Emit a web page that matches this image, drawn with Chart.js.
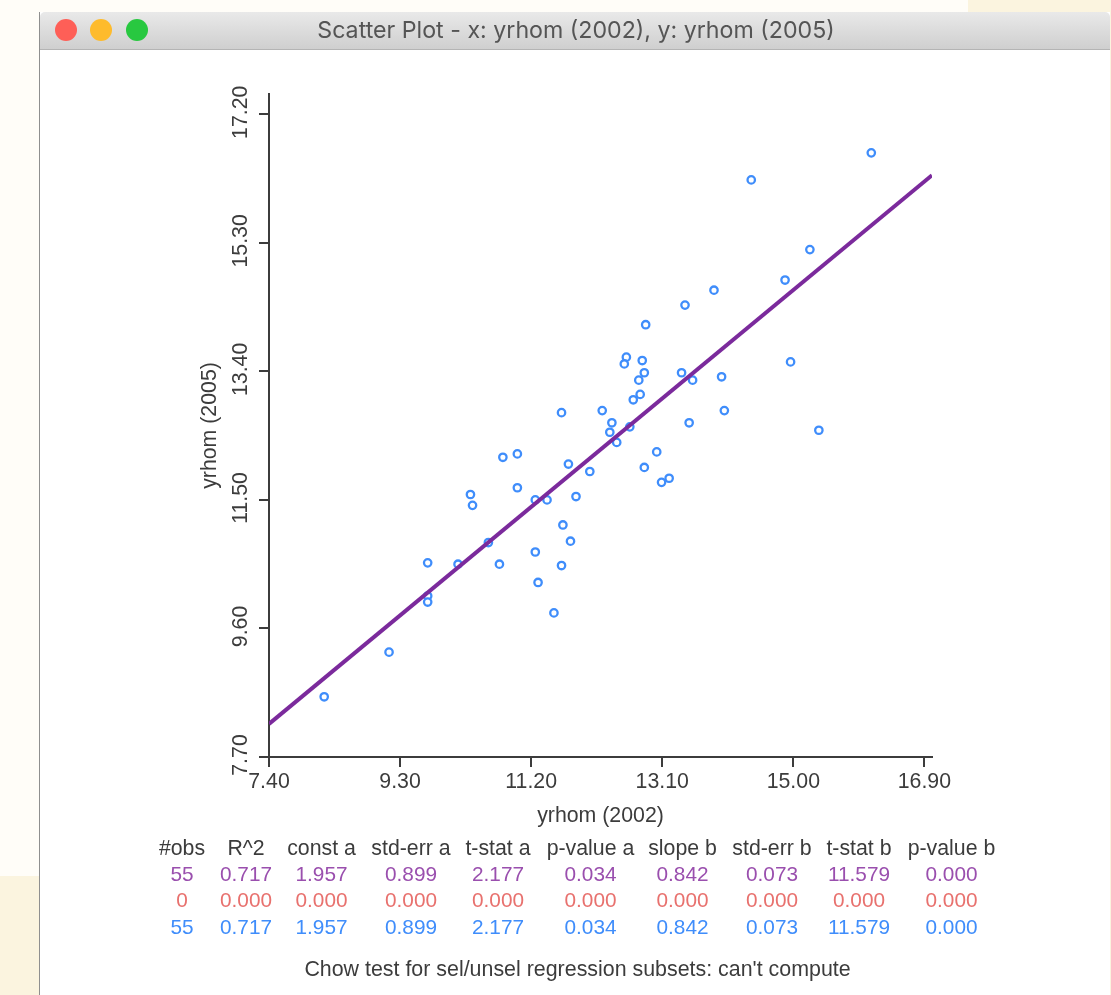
<!DOCTYPE html>
<html><head><meta charset="utf-8">
<script src="https://cdn.jsdelivr.net/npm/chart.js@4"></script>
<style>
html,body{margin:0;padding:0;width:1111px;height:995px;overflow:hidden;background:#fffdf8;font-family:"Liberation Sans",Arial,sans-serif}
.abs{position:absolute}
#win{left:40px;top:12px;width:1070px;height:983px;background:#fff;box-shadow:-1px 0 0 #8f8f8f}
#bar{left:40px;top:12px;width:1070px;height:37px;background:linear-gradient(#e9e9e9,#cfcfcf);border-bottom:1px solid #b4b4b4;border-radius:5px 5px 0 0}
.dot{width:22px;height:22px;border-radius:50%;top:19px}
#title{left:40px;width:1072px;top:16px;text-align:center;font:23.2px Inter,sans-serif;color:#555}
canvas{position:absolute;left:0;top:0;filter:blur(0.45px)}
#tbl,#title{filter:blur(0.45px)}
.t{position:absolute;transform:translateX(-50%);white-space:nowrap;line-height:24px}
</style></head><body>
<div class="abs" style="left:968px;top:0;width:143px;height:12px;background:#fbf4df"></div>
<div class="abs" style="left:0;top:876px;width:40px;height:119px;background:#fbf4df"></div>
<div class="abs" style="left:1110px;top:0;width:1px;height:995px;background:#fbf4df"></div>
<div class="abs" id="win"></div>
<div class="abs" id="bar"></div>
<div class="abs dot" style="left:55px;background:#fe5f57"></div>
<div class="abs dot" style="left:90px;background:#febb2c"></div>
<div class="abs dot" style="left:126px;background:#28c840"></div>
<div class="abs" id="title">Scatter Plot - x: yrhom (2002), y: yrhom (2005)</div>
<canvas id="c" width="1111" height="995"></canvas>
<div id="tbl"></div>
<script>
const xName = "yrhom (2002)";
const yName = "yrhom (2005)";
const xTicks = [7.40, 9.30, 11.20, 13.10, 15.00, 16.90];
const yTicks = [7.70, 9.60, 11.50, 13.40, 15.30, 17.20];
const xValues = [12.58,12.55,12.81,12.84,12.76,13.38,13.54,13.96,12.78,12.68,11.64,12.23,14.00,12.37,13.49,12.63,12.34,12.44,13.02,11.00,10.79,11.74,12.84,12.05,13.20,13.09,11.00,11.85,10.32,10.35,11.26,11.43,16.13,14.39,15.24,14.88,13.85,13.43,12.86,14.96,15.37,11.66,11.77,10.58,11.26,9.70,10.14,10.74,11.64,11.30,9.70,9.70,11.53,9.14,8.20];
const yValues = [13.61,13.51,13.56,13.38,13.27,13.38,13.27,13.32,13.06,12.98,12.79,12.82,12.82,12.64,12.64,12.58,12.50,12.35,12.21,12.18,12.13,12.03,11.98,11.92,11.82,11.76,11.68,11.55,11.58,11.42,11.50,11.50,16.63,16.23,15.20,14.75,14.60,14.38,14.09,13.54,12.53,11.13,10.89,10.87,10.73,10.57,10.55,10.55,10.53,10.28,10.08,9.99,9.83,9.25,8.59];
const fitX = [7.40, 17.01];
const fitY = [8.19, 16.30];
const headers = ["#obs","R^2","const a","std-err a","t-stat a","p-value a","slope b","std-err b","t-stat b","p-value b"];
const rowAll = ["55","0.717","1.957","0.899","2.177","0.034","0.842","0.073","11.579","0.000"];
const rowSel = ["0","0.000","0.000","0.000","0.000","0.000","0.000","0.000","0.000","0.000"];
const rowUnsel = ["55","0.717","1.957","0.899","2.177","0.034","0.842","0.073","11.579","0.000"];
const chowText = "Chow test for sel/unsel regression subsets: can't compute";

const INK = "#3c3c3c", PURPLE = "#7b2a9c", BLUE = "#3f8dfb";
const colX = [182,246,321.5,411,498,590.5,682.5,772,859,951.5];
const rows = [[headers,INK,836,21.3],[rowAll,"#9a4fae",862,20.8],[rowSel,"#e8716e",888,20.8],[rowUnsel,"#3f8dfb",915,20.8]];
const tbl = document.getElementById("tbl");
function put(txt,x,y,col,size){const s=document.createElement("span");s.className="t";s.textContent=txt;s.style.left=x+"px";s.style.top=y+"px";s.style.color=col;s.style.fontSize=size+"px";tbl.appendChild(s);}
rows.forEach(([vals,col,y,size])=>vals.forEach((v,i)=>put(v,colX[i],y,col,size)));
put(chowText,577.5,957,INK,21.4);

const font = {family:'"Liberation Sans",Arial,sans-serif',size:21.3};
const setTicks = vals => s => { s.ticks = vals.map(v=>({value:v})); };
const gridOpts = {display:true,drawOnChartArea:false,drawTicks:true,tickLength:10,color:INK,lineWidth:2};
new Chart(document.getElementById("c"),{
  data:{datasets:[
    {type:"line",data:fitX.map((x,i)=>({x,y:fitY[i]})),borderColor:PURPLE,borderWidth:4,pointRadius:0,fill:false,order:1},
    {type:"scatter",data:xValues.map((x,i)=>({x,y:yValues[i]})),borderColor:BLUE,backgroundColor:"#fff",pointRadius:3.7,borderWidth:2.3,order:2}
  ]},
  options:{
    responsive:false,animation:false,
    layout:{padding:{left:195,top:94,right:179,bottom:165}},
    plugins:{legend:{display:false},tooltip:{enabled:false}},
    scales:{
      x:{type:"linear",min:7.4,max:17.01,position:"bottom",
        afterBuildTicks:setTicks(xTicks),
        afterFit:s=>{s.height=73;},
        grid:gridOpts,
        border:{color:INK,width:2},
        ticks:{autoSkip:false,color:INK,font,padding:2,maxRotation:0,callback:v=>v.toFixed(2)},
        title:{display:true,text:xName,color:INK,font,padding:{top:0,bottom:1}}
      },
      y:{type:"linear",min:7.7,max:17.5,position:"left",
        afterBuildTicks:setTicks(yTicks),
        afterFit:s=>{s.width=74;},
        grid:gridOpts,
        border:{color:INK,width:2},
        ticks:{autoSkip:false,color:INK,font,padding:-9,labelOffset:-2,minRotation:90,maxRotation:90,crossAlign:"center",callback:v=>v.toFixed(2)},
        title:{display:true,text:yName,color:INK,font,padding:{top:2,bottom:0}}
      }
    }
  }
});
</script>
</body></html>
